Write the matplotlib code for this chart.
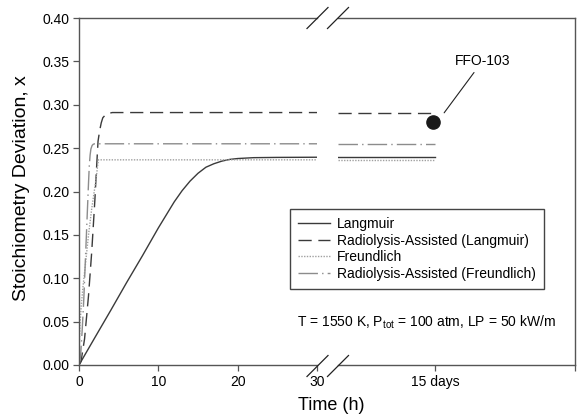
import matplotlib
matplotlib.use("Agg")
import matplotlib.pyplot as plt
from matplotlib.lines import Line2D

plt.rcParams['font.family'] = ['Liberation Sans', 'DejaVu Sans']
plt.rcParams['mathtext.fontset'] = 'custom'
plt.rcParams['mathtext.rm'] = 'Liberation Sans'
plt.rcParams['mathtext.it'] = 'Liberation Sans'

# Time (h) and stoichiometry deviation for each model
t_lang = [0, 2, 4, 6, 8, 10, 12, 13, 14, 15, 16, 17, 18, 19, 20, 22, 25, 30]
x_lang = [0, 0.0316, 0.063, 0.095, 0.126, 0.158, 0.188, 0.201, 0.212, 0.221,
          0.228, 0.232, 0.235, 0.237, 0.238, 0.239, 0.2393, 0.2395]

t_rad_lang = [0, 0.25, 0.7, 1.2, 1.6, 2.0, 2.2, 2.4, 2.6, 2.8, 3.0, 3.3, 3.7, 4.2, 30]
x_rad_lang = [0, 0.004, 0.03, 0.08, 0.13, 0.19, 0.225, 0.258, 0.27, 0.279,
              0.285, 0.288, 0.290, 0.291, 0.291]

t_freund = [0, 0.03, 0.08, 0.15, 0.3, 0.5, 0.8, 1.2, 1.6, 2.0, 2.2, 2.35, 2.45, 30]
x_freund = [0, 0.02, 0.035, 0.05, 0.07, 0.09, 0.115, 0.15, 0.18, 0.205,
            0.218, 0.23, 0.2365, 0.2365]

t_rad_freund = [0, 0.2, 0.4, 0.6, 0.8, 1.0, 1.2, 1.3, 1.4, 1.5, 1.65, 1.8, 2.0, 30]
x_rad_freund = [0, 0.01, 0.04, 0.075, 0.12, 0.165, 0.21, 0.23, 0.242, 0.249,
                0.253, 0.2545, 0.255, 0.255]

# long-term part (days) after the axis break
t_days = [13.0, 15.0]
ffo_day = 14.95
ffo_x = 0.280

labels = ['Langmuir', 'Radiolysis-Assisted (Langmuir)', 'Freundlich',
          'Radiolysis-Assisted (Freundlich)']
styles = [
    dict(color='#3a3a3a', lw=1.0, ls='-'),
    dict(color='#3a3a3a', lw=1.0, ls=(0, (9.5, 4.8))),
    dict(color='#a0a0a0', lw=1.0, ls=(0, (1, 1))),
    dict(color='#8c8c8c', lw=1.0, ls=(0, (14, 3, 1, 3))),
]
series = [(t_lang, x_lang), (t_rad_lang, x_rad_lang),
          (t_freund, x_freund), (t_rad_freund, x_rad_freund)]

W, H = 577, 420
fig = plt.figure(figsize=(W / 100, H / 100), dpi=100)

def fx(px):
    return px / W

def fy(py):
    return 1 - py / H

left_px, brk1, brk2, right_px = 79, 317, 338, 575
top_px, bot_px = 18, 365

ax1 = fig.add_axes([fx(left_px), fy(bot_px), fx(brk1 - left_px), (bot_px - top_px) / H])
ax2 = fig.add_axes([fx(brk2), fy(bot_px), fx(right_px - brk2), (bot_px - top_px) / H],
                   sharey=ax1)

handles = []
for (t, x), st, lab in zip(series, styles, labels):
    h, = ax1.plot(t, x, label=lab, **st)
    handles.append(h)
    ax2.plot(t_days, [x[-1], x[-1]], **st)

ax2.plot([ffo_day], [ffo_x], 'o', color='#1a1a1a', ms=9.5)
ax2.annotate('FFO-103', xy=(15.19, 0.2907), xytext=(15.99, 0.351),
             ha='center', va='center', fontsize=10,
             arrowprops=dict(arrowstyle='-', color='#222222', lw=0.8,
                             shrinkA=2, shrinkB=0))

ax1.set_xlim(0, 30)
ax1.set_ylim(0, 0.40)
ax2.set_xlim(13.0, 17.89)

spine_c = '#555555'
for ax in (ax1, ax2):
    for s in ax.spines.values():
        s.set_color(spine_c)
        s.set_linewidth(1.0)
    ax.tick_params(direction='out', length=4, width=0.9, color=spine_c,
                   labelsize=10, pad=3)
ax1.spines['right'].set_visible(False)
ax2.spines['left'].set_visible(False)

ax1.set_xticks([0, 10, 20, 30])
ax1.set_yticks([0, 0.05, 0.10, 0.15, 0.20, 0.25, 0.30, 0.35, 0.40])
ax1.set_yticklabels(['%.2f' % v for v in ax1.get_yticks()])
ax2.set_xticks([15, 17.89])
ax2.set_xticklabels(['15 days', ''])
ax2.tick_params(axis='y', left=False, labelleft=False)

fig.text(fx(22), fy(188), 'Stoichiometry Deviation, x', rotation=90,
         ha='center', va='center', fontsize=14)
fig.text(fx(331), fy(405), 'Time (h)', ha='center', va='center', fontsize=13)

fig.text(fx(426), fy(322), 'T = 1550 K, P$_{\\mathrm{tot}}$ = 100 atm, LP = 50 kW/m',
         ha='center', va='center', fontsize=10)

# break marks
for cx in (brk1 + 0.5, brk2):
    for cy in (top_px, bot_px + 1):
        fig.add_artist(Line2D([fx(cx - 10.5), fx(cx + 10.5)],
                              [fy(cy + 10.5), fy(cy - 10.5)],
                              color='#222222', lw=0.9))

leg = fig.legend(handles=handles, labels=labels, loc='upper left',
                 bbox_to_anchor=(fx(290), fy(209)),
                 bbox_transform=fig.transFigure, fontsize=10, frameon=True,
                 fancybox=False, framealpha=1, edgecolor='#444444',
                 handlelength=2.3, handletextpad=0.5, labelspacing=0.18,
                 borderpad=0.6, borderaxespad=0)
leg.get_frame().set_linewidth(1.0)

fig.savefig('out.png', dpi=100)
